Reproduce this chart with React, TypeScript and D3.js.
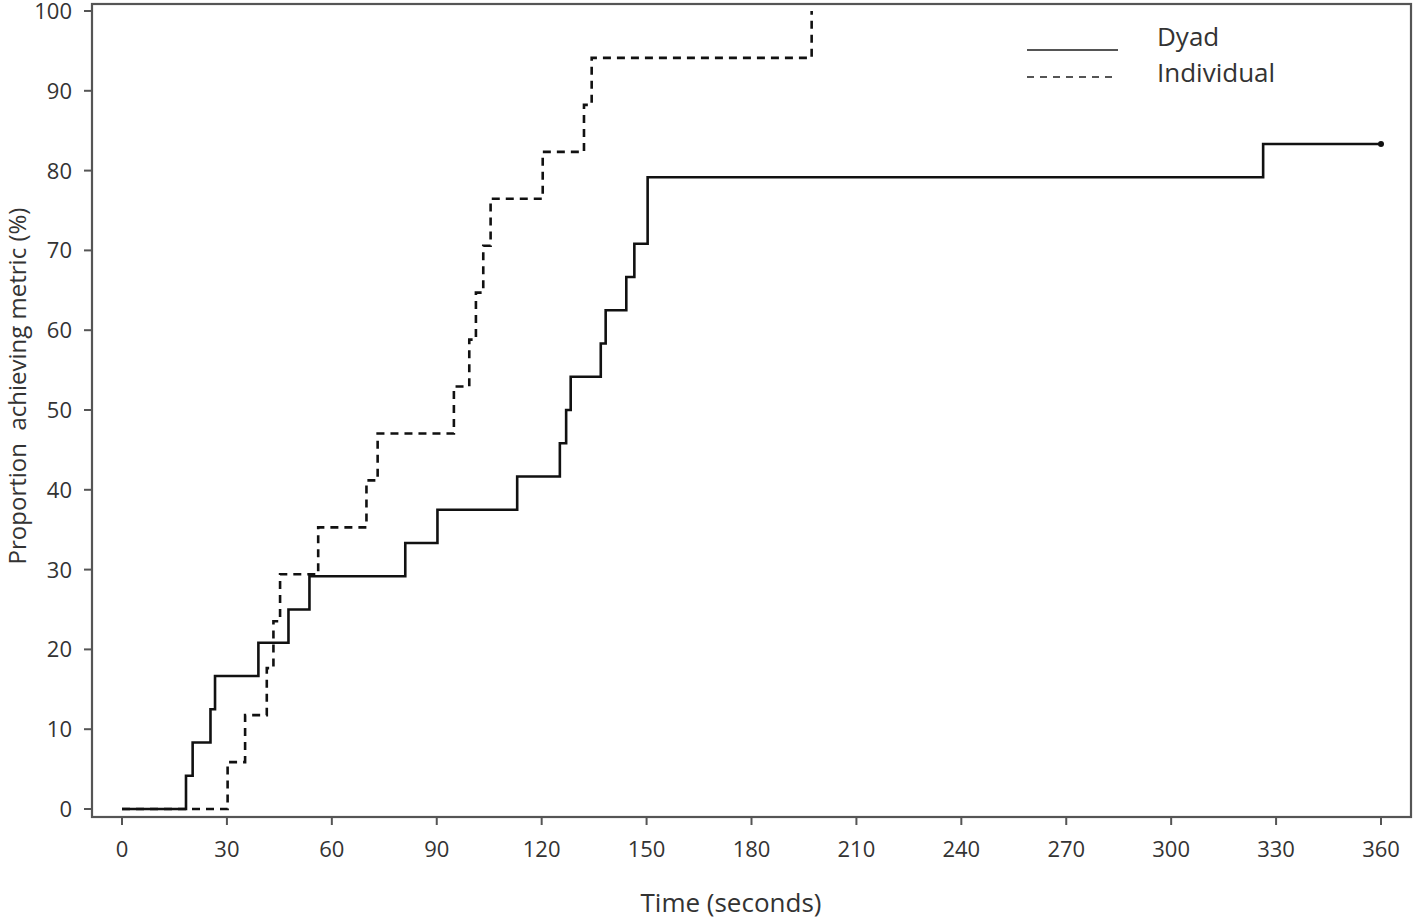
import React from "react";
import * as d3 from "d3";

// event times (seconds) and cumulative proportion (%) after each event
const dyadTimes = [0, 18.3, 20.2, 25.3, 26.6, 39.0, 47.6, 53.6, 81.0, 90.2, 113.0, 125.2, 127.0, 128.3, 136.9, 138.3, 144.2, 146.5, 150.3, 326.3, 360];
const dyadValues = [0, 4.17, 8.33, 12.5, 16.67, 20.83, 25, 29.17, 33.33, 37.5, 41.67, 45.83, 50, 54.17, 58.33, 62.5, 66.67, 70.83, 79.17, 83.33, 83.33];

const indivTimes = [0, 30.2, 35.2, 41.4, 43.3, 45.2, 56.1, 69.9, 73.1, 94.9, 99.3, 101.2, 103.3, 105.4, 120.3, 132.1, 134.3, 197.2];
const indivValues = [0, 5.88, 11.76, 17.65, 23.53, 29.41, 35.29, 41.18, 47.06, 52.94, 58.82, 64.71, 70.59, 76.47, 82.35, 88.24, 94.12, 100];

const xTicks = [0, 30, 60, 90, 120, 150, 180, 210, 240, 270, 300, 330, 360];
const yTicks = [0, 10, 20, 30, 40, 50, 60, 70, 80, 90, 100];

const W = 1418;
const H = 923;
const FONT = "'Open Sans', sans-serif";
const TXT = "#333";
const FRAME = "#555";

export default function App() {
  const x = d3.scaleLinear().domain([0, 360]).range([122, 1381]);
  const y = d3.scaleLinear().domain([0, 100]).range([809, 11]);

  const frame = { left: 92, right: 1411, top: 4, bottom: 817 };

  const line = d3
    .line<[number, number]>()
    .x((d) => x(d[0]))
    .y((d) => y(d[1]))
    .curve(d3.curveStepAfter);

  const dyadPts = dyadTimes.map((t, i) => [t, dyadValues[i]] as [number, number]);
  const indivPts = indivTimes.map((t, i) => [t, indivValues[i]] as [number, number]);
  const lastDyad = dyadPts[dyadPts.length - 1];

  return (
    <svg
      width={W}
      height={H}
      style={{ position: "absolute", left: 0, top: 0, background: "#fff" }}
      fontFamily={FONT}
    >
      {/* frame */}
      <rect
        x={frame.left}
        y={frame.top}
        width={frame.right - frame.left}
        height={frame.bottom - frame.top}
        fill="none"
        stroke={FRAME}
        strokeWidth={2.2}
      />

      {/* y axis */}
      {yTicks.map((t) => (
        <g key={"y" + t}>
          <line x1={frame.left - 8} x2={frame.left} y1={y(t)} y2={y(t)} stroke={FRAME} strokeWidth={2} />
          <text x={frame.left - 20} y={y(t)} dy="0.36em" textAnchor="end" fontSize={22} fill={TXT}>
            {t}
          </text>
        </g>
      ))}

      {/* x axis */}
      {xTicks.map((t) => (
        <g key={"x" + t}>
          <line x1={x(t)} x2={x(t)} y1={frame.bottom} y2={frame.bottom + 8} stroke={FRAME} strokeWidth={2} />
          <text x={x(t)} y={857} textAnchor="middle" fontSize={22} fill={TXT}>
            {t}
          </text>
        </g>
      ))}

      <text x={731} y={912} textAnchor="middle" fontSize={26} fill={TXT}>
        Time (seconds)
      </text>
      <text
        transform={`translate(26, ${386}) rotate(-90)`}
        textAnchor="middle"
        fontSize={24}
        fill={TXT}
        style={{ whiteSpace: "pre" }}
      >
        {"Proportion  achieving metric (%)"}
      </text>

      {/* curves */}
      <path d={line(indivPts) ?? ""} fill="none" stroke="#111" strokeWidth={2.6} strokeDasharray="8,6" />
      <path d={line(dyadPts) ?? ""} fill="none" stroke="#111" strokeWidth={2.6} />
      <circle cx={x(lastDyad[0])} cy={y(lastDyad[1])} r={3} fill="#111" />

      {/* legend */}
      <line x1={1027} x2={1118} y1={50} y2={50} stroke={FRAME} strokeWidth={2.2} />
      <line x1={1027} x2={1118} y1={77} y2={77} stroke={FRAME} strokeWidth={2.2} strokeDasharray="7,6" />
      <text x={1157} y={46} fontSize={26} fill={TXT}>
        Dyad
      </text>
      <text x={1157} y={82} fontSize={26} fill={TXT}>
        Individual
      </text>
    </svg>
  );
}
